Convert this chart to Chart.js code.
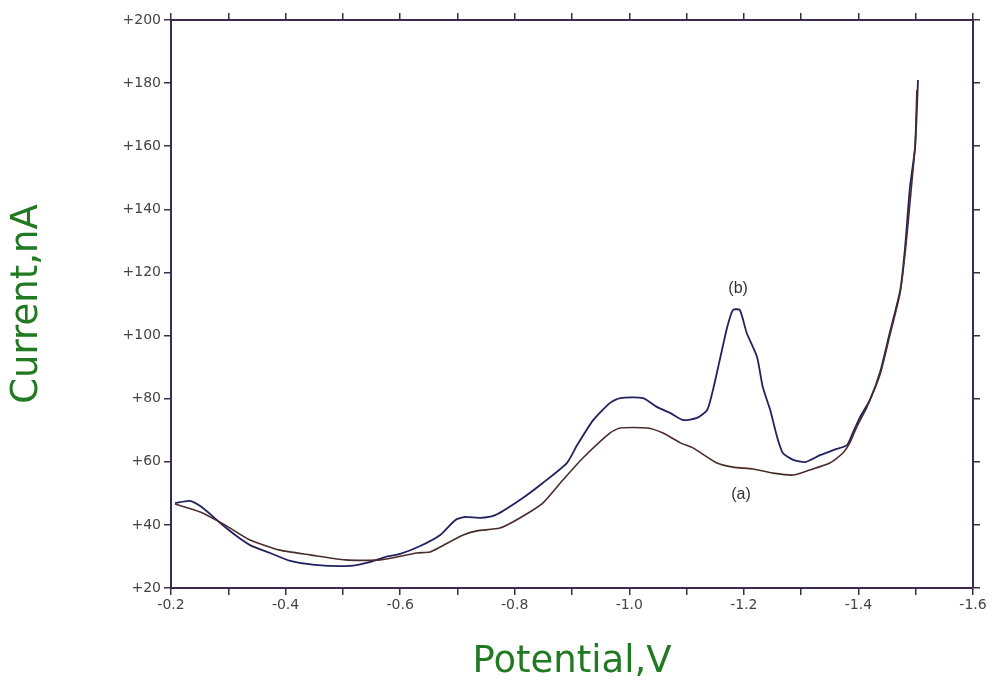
<!DOCTYPE html>
<html>
<head>
<meta charset="utf-8">
<script src="https://cdn.jsdelivr.net/npm/chart.js@4/dist/chart.umd.min.js"></script>
<style>
  html, body { margin: 0; padding: 0; background: #fff; }
  #wrap { width: 994px; height: 683px; }
</style>
</head>
<body>
<div id="wrap"><canvas id="voltChart" width="994" height="683"></canvas></div>
<script>
// curve (a): potential (V) and current (nA)
const potentialA = [-0.207, -0.251, -0.294, -0.338, -0.390, -0.443, -0.504, -0.565, -0.629, -0.652,
  -0.670, -0.710, -0.734, -0.774, -0.809, -0.849, -0.884, -0.919, -0.966, -0.984,
  -1.031, -1.059, -1.089, -1.111, -1.153, -1.181, -1.216, -1.251, -1.286, -1.315,
  -1.350, -1.373, -1.385, -1.397, -1.415, -1.438, -1.455, -1.473, -1.483, -1.492, -1.499, -1.502];
const currentA = [46.6, 44.1, 40.0, 35.2, 32.0, 30.5, 28.9, 28.9, 31.1, 31.4,
  33.0, 36.8, 38.1, 39.0, 42.2, 46.9, 54.2, 61.2, 69.1, 70.7,
  70.7, 69.1, 66.0, 64.4, 59.6, 58.3, 57.7, 56.4, 55.8, 57.4,
  59.6, 62.8, 66.0, 71.0, 77.4, 87.8, 100.2, 113.8, 128.7, 146.1, 160.4, 177.8];

// curve (b)
const potentialB = [-0.207, -0.233, -0.251, -0.268, -0.286, -0.312, -0.338, -0.373, -0.408, -0.451,
  -0.512, -0.547, -0.574, -0.600, -0.635, -0.670, -0.696, -0.713, -0.739, -0.766,
  -0.809, -0.849, -0.891, -0.909, -0.937, -0.966, -0.984, -1.024, -1.048, -1.071,
  -1.094, -1.118, -1.136, -1.146, -1.158, -1.171, -1.181, -1.193, -1.205, -1.223,
  -1.233, -1.246, -1.258, -1.268, -1.286, -1.307, -1.333, -1.356, -1.380, -1.390,
  -1.403, -1.420, -1.438, -1.455, -1.473, -1.481, -1.490, -1.499, -1.504];
const currentB = [46.9, 47.6, 46.0, 43.5, 40.6, 36.8, 33.6, 31.1, 28.6, 27.3,
  27.0, 28.2, 29.8, 30.8, 33.3, 36.8, 41.5, 42.5, 42.2, 43.1,
  47.9, 53.3, 59.6, 65.3, 73.2, 78.6, 80.2, 80.2, 77.4, 75.5,
  73.2, 73.9, 76.4, 82.7, 92.3, 102.7, 108.1, 108.1, 100.8, 93.2,
  83.7, 76.4, 67.9, 62.8, 60.6, 59.9, 62.1, 63.7, 65.3, 69.1,
  74.2, 79.6, 88.5, 101.1, 114.4, 127.1, 147.1, 159.8, 181.0];

// curve labels and where they sit
const curveLabels = ["(b)", "(a)"];
const labelPotential = [-1.19, -1.195];
const labelCurrent = [115, 49.5];

const axisColor = "#3b2d4b";
const tickFont = { family: "DejaVu Sans", size: 14 };
const titleFont = { family: "DejaVu Sans", size: 37, lineHeight: 1 };

const toPoints = (xs, ys) => xs.map((x, i) => ({ x: x, y: ys[i] }));

// writes (a) and (b) next to the curves
const curveLabelPlugin = {
  id: "curveLabels",
  afterDatasetsDraw(chart) {
    const { ctx, scales } = chart;
    ctx.save();
    ctx.font = "16px 'Liberation Sans', Arial, sans-serif";
    ctx.fillStyle = "#333";
    ctx.textAlign = "center";
    ctx.textBaseline = "middle";
    curveLabels.forEach((txt, i) => {
      ctx.fillText(txt, scales.x.getPixelForValue(labelPotential[i]), scales.y.getPixelForValue(labelCurrent[i]));
    });
    ctx.restore();
  },
};

const frameAxis = (extra) => Object.assign({
  type: "linear",
  grid: { drawOnChartArea: false, drawTicks: true, tickLength: 7, color: axisColor, lineWidth: 1.5 },
  border: { display: true, color: axisColor, width: 2 },
}, extra);

const xOpts = {
  min: -1.6, max: -0.2, reverse: true,
  ticks: {
    stepSize: 0.1,
    color: "#444",
    font: tickFont,
    padding: 2,
    maxRotation: 0,
    autoSkip: false,
    callback: (v) => (Math.round(v * 10) % 2 === 0 ? v.toFixed(1) : ""),
  },
};

const yOpts = {
  min: 20, max: 200,
  ticks: { stepSize: 20, color: "#444", font: tickFont, padding: 3, callback: (v) => "+" + v },
};

new Chart(document.getElementById("voltChart").getContext("2d"), {
  type: "line",
  data: {
    datasets: [
      {
        label: "(a)",
        data: toPoints(potentialA, currentA),
        borderColor: "#4a2c2c",
        borderWidth: 1.6,
        pointRadius: 0,
        tension: 0.2,
        fill: false,
      },
      {
        label: "(b)",
        data: toPoints(potentialB, currentB),
        borderColor: "#22225e",
        borderWidth: 1.8,
        pointRadius: 0,
        tension: 0.2,
        fill: false,
      },
    ],
  },
  options: {
    responsive: false,
    animation: false,
    layout: { padding: 0 },
    plugins: { legend: { display: false }, tooltip: { enabled: false } },
    scales: {
      x: frameAxis(Object.assign({}, xOpts, {
        position: "bottom",
        title: { display: true, text: "Potential,V", color: "#217a21", font: titleFont, padding: { top: 0, bottom: 2 } },
        afterFit: (s) => { s.height = 95; },
      })),
      x2: frameAxis(Object.assign({}, xOpts, {
        position: "top",
        ticks: Object.assign({}, xOpts.ticks, { display: false }),
        afterFit: (s) => { s.height = 20; },
      })),
      y: frameAxis(Object.assign({}, yOpts, {
        position: "left",
        title: { display: true, text: "Current,nA", color: "#217a21", font: titleFont, padding: { top: 9, bottom: 0 } },
        afterFit: (s) => { s.width = 171; },
      })),
      y2: frameAxis(Object.assign({}, yOpts, {
        position: "right",
        ticks: Object.assign({}, yOpts.ticks, { display: false }),
        afterFit: (s) => { s.width = 21; },
      })),
    },
  },
  plugins: [curveLabelPlugin],
});
</script>
</body>
</html>
